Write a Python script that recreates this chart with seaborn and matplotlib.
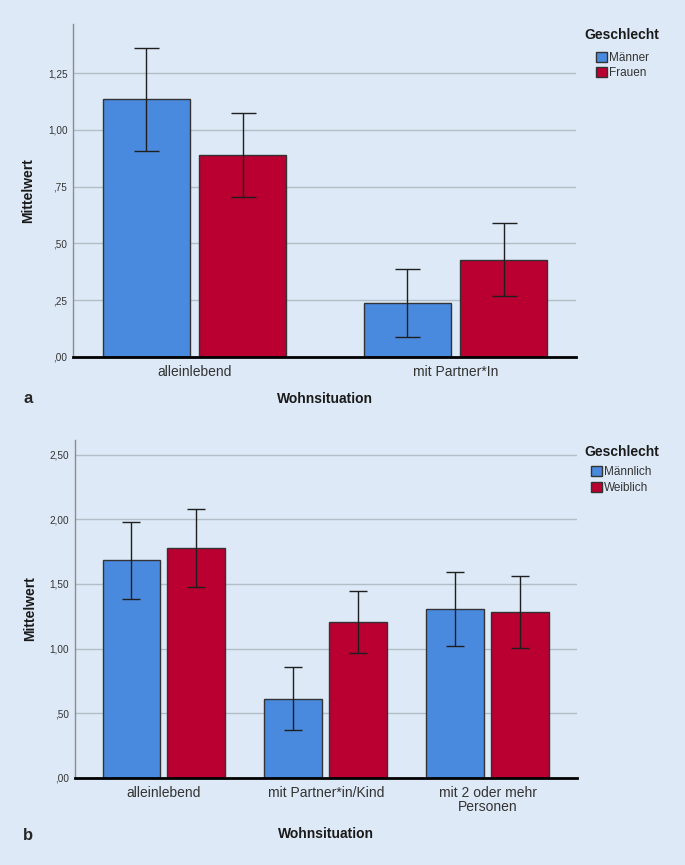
import numpy as np
import pandas as pd
import matplotlib
matplotlib.use("Agg")
import matplotlib.pyplot as plt
import seaborn as sns

# ---- data, panel a ----
cats_a = ["alleinlebend", "mit Partner*In"]
sex_a = ["Männer", "Frauen"]
mean_a_m = [1.134, 0.237]
mean_a_f = [0.889, 0.427]
lo_a_m = [0.908, 0.087]
hi_a_m = [1.360, 0.387]
lo_a_f = [0.704, 0.268]
hi_a_f = [1.076, 0.590]
yticks_a = [0, 0.25, 0.5, 0.75, 1.0, 1.25]
ylabels_a = [",00", ",25", ",50", ",75", "1,00", "1,25"]

# ---- data, panel b ----
cats_b = ["alleinlebend", "mit Partner*in/Kind", "mit 2 oder mehr\nPersonen"]
sex_b = ["Männlich", "Weiblich"]
mean_b_m = [1.685, 0.610, 1.306]
mean_b_f = [1.775, 1.206, 1.285]
lo_b_m = [1.386, 0.371, 1.020]
hi_b_m = [1.981, 0.858, 1.594]
lo_b_f = [1.476, 0.968, 1.007]
hi_b_f = [2.076, 1.443, 1.563]
yticks_b = [0, 0.5, 1.0, 1.5, 2.0, 2.5]
ylabels_b = [",00", ",50", "1,00", "1,50", "2,00", "2,50"]

bg = "#dde9f6"
blue = "#4a8ade"
red = "#ba0031"

sns.set_style("whitegrid", {"axes.facecolor": bg, "figure.facecolor": bg,
                            "grid.color": "#b3bdc7", "axes.edgecolor": "#8c8c8c"})
plt.rcParams["font.family"] = ["Liberation Sans", "DejaVu Sans"]

fig = plt.figure(figsize=(6.85, 8.65), dpi=100)
ax_a = fig.add_axes([0.1066, 0.5876, 0.7343, 0.3847])
ax_b = fig.add_axes([0.109, 0.1006, 0.733, 0.3907])


def draw_panel(ax, cats, sexes, m_m, m_f, lo_m, hi_m, lo_f, hi_f,
               yticks, ylabels, ytop, width, gap, cap, xlim):
    df = pd.DataFrame({
        "Wohnsituation": cats * 2,
        "Geschlecht": [sexes[0]] * len(cats) + [sexes[1]] * len(cats),
        "Mittelwert": m_m + m_f,
    })
    sns.barplot(data=df, x="Wohnsituation", y="Mittelwert", hue="Geschlecht",
                order=cats, hue_order=sexes, palette=[blue, red], errorbar=None,
                width=width, gap=gap, edgecolor="#333333", linewidth=1,
                saturation=1, ax=ax)
    # confidence intervals on top of the bars seaborn placed
    for cont, mu, lo, hi in zip(ax.containers, [m_m, m_f], [lo_m, lo_f], [hi_m, hi_f]):
        xs = [b.get_x() + b.get_width() / 2 for b in cont]
        ax.errorbar(xs, mu, yerr=[np.subtract(mu, lo), np.subtract(hi, mu)],
                    fmt="none", ecolor="#1f1f1f", elinewidth=1,
                    capsize=cap, capthick=1, zorder=3)
    ax.set_ylim(0, ytop)
    ax.set_xlim(*xlim)
    ax.set_yticks(yticks)
    ax.set_yticklabels(ylabels)
    ax.grid(axis="x", visible=False)
    ax.grid(axis="y", linewidth=1)
    ax.set_axisbelow(True)
    for s in ["top", "right"]:
        ax.spines[s].set_visible(False)
    ax.spines["left"].set_linewidth(1)
    ax.spines["bottom"].set_color("black")
    ax.spines["bottom"].set_linewidth(2)
    ax.spines["bottom"].set_zorder(4)
    ax.tick_params(axis="both", length=0)
    ax.tick_params(axis="y", labelsize=7.2, labelcolor="#333333", pad=4)
    ax.tick_params(axis="x", labelsize=10, labelcolor="#333333", pad=6)
    for t in ax.get_xticklabels():
        t.set_linespacing(1.0)
    ax.set_ylabel("Mittelwert", fontsize=10, fontweight="bold", color="#1a1a1a")
    ax.set_xlabel("Wohnsituation", fontsize=10, fontweight="bold", color="#1a1a1a")
    handles, labels = ax.get_legend_handles_labels()
    ax.get_legend().remove()
    return handles, labels


h_a, l_a = draw_panel(ax_a, cats_a, sex_a, mean_a_m, mean_a_f, lo_a_m, hi_a_m,
                      lo_a_f, hi_a_f, yticks_a, ylabels_a, 1.467,
                      0.736, 0.094, 9, (-0.4655, 1.4617))
h_b, l_b = draw_panel(ax_b, cats_b, sex_b, mean_b_m, mean_b_f, lo_b_m, hi_b_m,
                      lo_b_f, hi_b_f, yticks_b, ylabels_b, 2.612,
                      0.8, 0.11, 6.5, (-0.55, 2.55))

ax_a.yaxis.set_label_coords(-0.0746, 0.5)
ax_b.yaxis.set_label_coords(-0.0757, 0.5)
ax_a.xaxis.set_label_coords(0.5, -0.106)
ax_b.xaxis.set_label_coords(0.5, -0.145)

leg_kw = dict(loc="upper left", bbox_transform=fig.transFigure, frameon=False,
              fontsize=8.5, borderpad=0, borderaxespad=0, handlelength=0.93,
              handleheight=0.93, handletextpad=0.2, labelspacing=0.3)
leg_a = ax_a.legend(h_a, l_a, bbox_to_anchor=(0.870, 1 - 51.5 / 865), **leg_kw)
leg_b = ax_b.legend(h_b, l_b, bbox_to_anchor=(0.8628, 1 - 466 / 865), **leg_kw)
for leg in (leg_a, leg_b):
    for t in leg.get_texts():
        t.set_color("#333333")

fig.text(584 / 685, 1 - 35 / 865, "Geschlecht", fontsize=10, fontweight="bold",
         color="#1a1a1a", ha="left", va="center")
fig.text(584 / 685, 1 - 451.7 / 865, "Geschlecht", fontsize=10, fontweight="bold",
         color="#1a1a1a", ha="left", va="center")
fig.text(23 / 685, 1 - 399 / 865, "a", fontsize=12, fontweight="bold",
         ha="left", va="center")
fig.text(23 / 685, 1 - 835 / 865, "b", fontsize=12, fontweight="bold",
         ha="left", va="center")

fig.savefig("out.png", dpi=100, facecolor=bg)
